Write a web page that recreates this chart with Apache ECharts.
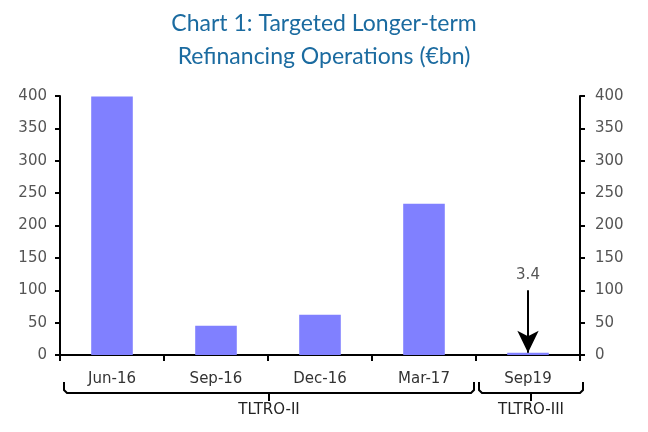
<!DOCTYPE html>
<html><head><meta charset="utf-8">
<script src="https://cdn.jsdelivr.net/npm/echarts@6/dist/echarts.min.js"></script>
<style>html,body{margin:0;padding:0;background:#fff}#c{width:648px;height:432px}</style>
</head><body><div id="c"></div>
<script>
const categories = ['Jun-16', 'Sep-16', 'Dec-16', 'Mar-17', 'Sep19'];
const values = [399.3, 45.3, 62.2, 233.5, 3.4];
const arrowFrom = 100;
const arrowLabel = '3.4';
const groups = [
  { name: 'TLTRO-II', first: 0, last: 3 },
  { name: 'TLTRO-III', first: 4, last: 4 }
];
const yTicks = { min: 0, max: 400, interval: 50 };

const chart = echarts.init(document.getElementById('c'));
const tfont = 'Lato, "Open Sans", sans-serif';
const font = '"DejaVu Sans", Verdana, sans-serif';
function yAxis(position, margin) {
  return {
    type: 'value', position: position, min: yTicks.min, max: yTicks.max, interval: yTicks.interval,
    axisLine: { show: true, lineStyle: { color: '#000', width: 2 } },
    axisTick: { show: true, length: 5, lineStyle: { color: '#000', width: 2 } },
    splitLine: { show: false },
    axisLabel: { color: '#555', fontSize: 15, fontFamily: font, margin: margin }
  };
}
chart.setOption({
  animation: false,
  title: {
    text: 'Chart 1: Targeted Longer-term\nRefinancing Operations (€bn)',
    left: 'center', top: 2,
    textStyle: { color: '#1b6ba0', fontSize: 23, fontWeight: 'normal', fontFamily: tfont, lineHeight: 33 }
  },
  grid: { left: 60, right: 68, top: 96, bottom: 77 },
  xAxis: {
    type: 'category', data: categories,
    axisLine: { lineStyle: { color: '#000', width: 2 } },
    axisTick: { show: true, length: 6, lineStyle: { color: '#000', width: 2 } },
    axisLabel: { color: '#333', fontSize: 15, fontFamily: font, margin: 17 }
  },
  yAxis: [yAxis('left', 13), yAxis('right', 15)],
  series: [{
    type: 'bar', data: values, barWidth: '40%', yAxisIndex: 0,
    itemStyle: { color: '#8080ff' },
    markLine: {
      silent: true,
      symbol: ['none', 'arrow'], symbolSize: [16, 22],
      lineStyle: { color: '#000', width: 2, type: 'solid' },
      label: { show: true, position: 'start', formatter: arrowLabel, color: '#555', fontSize: 15, fontFamily: font, distance: 8 },
      data: [[{ coord: [categories[4], arrowFrom] }, { coord: [categories[4], values[4]] }]]
    }
  }]
});

// Brackets beneath category groups
const c0 = chart.convertToPixel({ xAxisIndex: 0 }, categories[0]);
const c1 = chart.convertToPixel({ xAxisIndex: 0 }, categories[1]);
const band = c1 - c0;
const yTop = 382, yMid = 393, yTip = 401;
const graphics = [];
groups.forEach((g, i) => {
  const xl = chart.convertToPixel({ xAxisIndex: 0 }, categories[g.first]) - band / 2 + (i === 0 ? 4 : 3);
  const xr = chart.convertToPixel({ xAxisIndex: 0 }, categories[g.last]) + band / 2 + (i === groups.length - 1 ? 3 : -2);
  const xc = (xl + xr) / 2;
  graphics.push({
    type: 'polyline', silent: true,
    shape: { points: [[xl, yTop], [xl, yMid - 3], [xl + 3, yMid], [xr - 3, yMid], [xr, yMid - 3], [xr, yTop]] },
    style: { stroke: '#000', lineWidth: 2, fill: null }
  });
  graphics.push({
    type: 'line', silent: true,
    shape: { x1: xc, y1: yMid, x2: xc, y2: yTip },
    style: { stroke: '#000', lineWidth: 2 }
  });
  graphics.push({
    type: 'text', silent: true, x: xc, y: 403,
    style: { text: g.name, fill: '#222', fontSize: 15, fontFamily: font, align: 'center', verticalAlign: 'top' }
  });
});
chart.setOption({ graphic: graphics });
</script></body></html>
